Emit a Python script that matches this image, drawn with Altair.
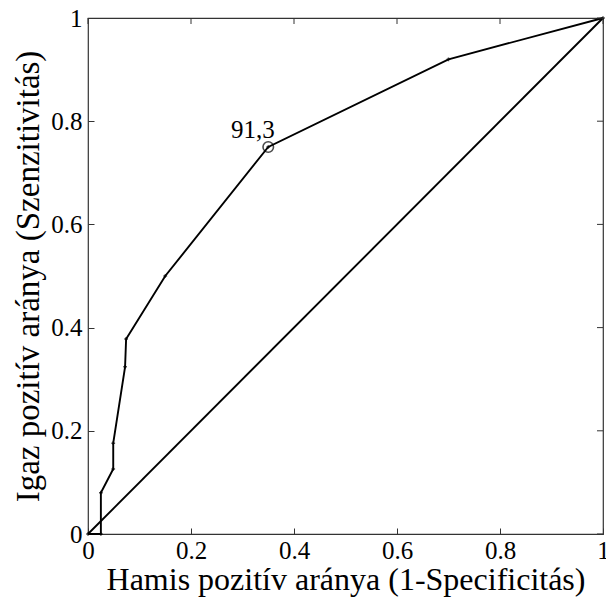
import altair as alt
import pandas as pd

# ROC curve vertices (false positive rate, true positive rate)
fpr = [0.0, 0.025, 0.025, 0.049, 0.049, 0.072, 0.074, 0.15, 0.35, 0.70, 1.0]
tpr = [0.0, 0.0, 0.08, 0.126, 0.176, 0.324, 0.378, 0.50, 0.75, 0.92, 1.0]
order = list(range(len(fpr)))

# chance diagonal
diag_x = [0.0, 1.0]
diag_y = [0.0, 1.0]

# highlighted cut-off point and its label
cut_x = [0.35]
cut_y = [0.75]
label_x = [0.32]
label_y = [0.783]
label_txt = ["91,3"]

ticks = [0, 0.2, 0.4, 0.6, 0.8, 1]

FONT = "Liberation Serif"

roc = pd.DataFrame({"x": fpr, "y": tpr, "o": order})
diag = pd.DataFrame({"x": diag_x, "y": diag_y})
cut = pd.DataFrame({"x": cut_x, "y": cut_y})
lab = pd.DataFrame({"x": label_x, "y": label_y, "t": label_txt})
tk = pd.DataFrame({"v": ticks})

LEXPR = "datum.value == 0 ? '0' : datum.value == 1 ? '1' : format(datum.value, '.1f')"

xscale = alt.Scale(domain=[0, 1], nice=False, zero=False)
yscale = alt.Scale(domain=[0, 1], nice=False, zero=False)

xaxis = alt.Axis(values=ticks, labelExpr=LEXPR, title="Hamis pozitív aránya (1-Specificitás)",
                 labelPadding=4, titlePadding=1, titleFontSize=32)
yaxis = alt.Axis(values=ticks, labelExpr=LEXPR, title="Igaz pozitív aránya (Szenzitivitás)",
                 labelPadding=6, titlePadding=5, titleFontSize=33)

def X(field):
    return alt.X(field, scale=xscale, axis=xaxis)

def Y(field):
    return alt.Y(field, scale=yscale, axis=yaxis)

diag_layer = alt.Chart(diag).mark_line(color="black", strokeWidth=1.9).encode(
    x=X("x:Q"), y=Y("y:Q"),
)

roc_line = alt.Chart(roc).mark_line(color="black", strokeWidth=1.9).encode(
    x=X("x:Q"), y=Y("y:Q"), order="o:Q",
)

roc_pts = alt.Chart(roc).mark_point(shape="cross", filled=True, color="black", size=14).encode(
    x=X("x:Q"), y=Y("y:Q"),
)

cut_layer = alt.Chart(cut).mark_point(shape="circle", filled=False, color="black", size=110, strokeWidth=1.6).encode(
    x=X("x:Q"), y=Y("y:Q"),
)

text_layer = alt.Chart(lab).mark_text(font=FONT, fontSize=25, color="black", align="center", baseline="middle").encode(
    x=X("x:Q"), y=Y("y:Q"), text="t:N",
)

# inward ticks on top and right edges (MATLAB-style box)
top_ticks = alt.Chart(tk).mark_rule(color="#333333").encode(
    x=X("v:Q"),
    y=alt.value(0),
    y2=alt.value(6),
)
right_ticks = alt.Chart(tk).mark_rule(color="#333333").encode(
    y=Y("v:Q"),
    x=alt.value(509),
    x2=alt.value(515),
)

chart = alt.layer(diag_layer, roc_line, roc_pts, cut_layer, text_layer, top_ticks, right_ticks).properties(
    width=515, height=516,
    padding={"left": 88, "top": 18, "right": 3, "bottom": 65},
    autosize=alt.AutoSizeParams(type="none"),
    background="white",
).configure(font=FONT).configure_axis(
    labelFont=FONT, labelFontSize=25, labelColor="black", labelFlush=False,
    titleFont=FONT, titleFontWeight="normal", titleColor="black",
    domain=False, grid=False, offset=-6, tickSize=6, tickColor="#333333",
).configure_text(font=FONT).configure_view(
    stroke="#333333", strokeWidth=1.2
)

chart.save("out.html", embed_options={"renderer": "svg", "actions": False})
